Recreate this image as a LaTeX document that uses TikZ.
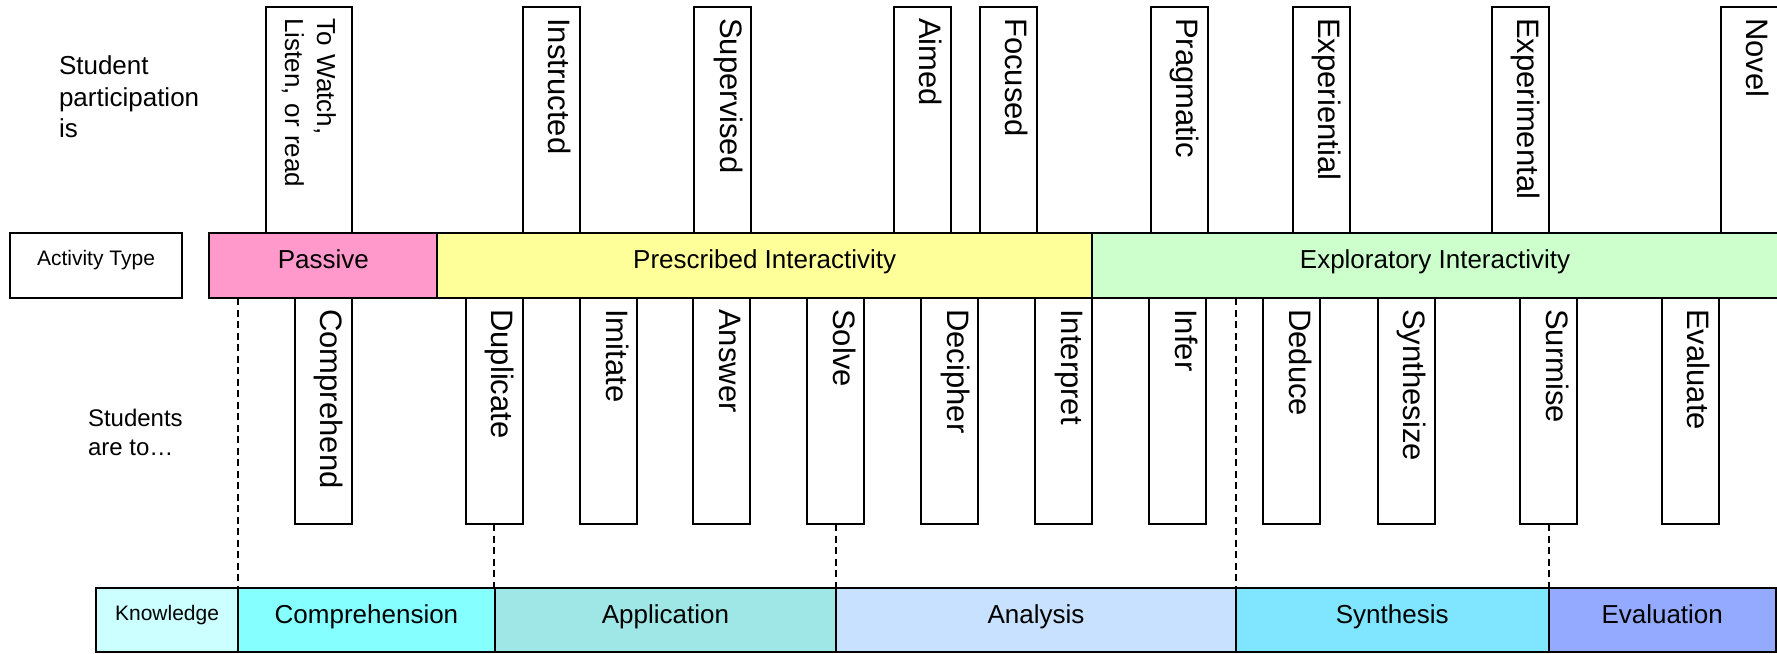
\documentclass[tikz,border=0pt]{standalone}
\usepackage{fontspec}
\setmainfont{Liberation Sans}
\definecolor{passivefill}{HTML}{FF99CC}
\definecolor{prescribedfill}{HTML}{FFFF99}
\definecolor{exploratoryfill}{HTML}{CCFFCC}
\definecolor{knowledgefill}{HTML}{CCFFFF}
\definecolor{comprehensionfill}{HTML}{85FFFF}
\definecolor{applicationfill}{HTML}{9FE6E6}
\definecolor{analysisfill}{HTML}{C8E1FF}
\definecolor{synthesisfill}{HTML}{80E5FF}
\definecolor{evaluationfill}{HTML}{94AAFF}
\begin{document}
\begin{tikzpicture}[x=1pt,y=-1pt,
  every node/.style={outer sep=0pt},
  boxline/.style={draw=black, line width=2pt},
  band/.style={boxline, anchor=north west, inner sep=0pt, minimum height=65pt,
    font=\fontsize{26}{30}\selectfont, text height=0.75em, text depth=0.2em},
  kband/.style={band, minimum height=64pt},
  smalltag/.style={font=\fontsize{21}{25}\selectfont, text height=0.75em, text depth=0.75em},
  word/.style={boxline, fill=white, rotate=-90, anchor=south west,
    inner xsep=11pt, inner ysep=0pt, minimum height=57pt, align=left,
    font=\fontsize{31}{36}\selectfont, text height=0.75em, text depth=0.25em},
  upword/.style={word, text width=204pt},
  lowword/.style={word, text width=203.7pt},
  guide/.style={draw=black, line width=2pt, dash pattern=on 7pt off 4.5pt},
  sidetext/.style={anchor=north west, inner sep=0pt, align=left}
]
\useasboundingbox[fill=white] (0,0) rectangle (1777,653);

% row captions
\node[sidetext, font=\fontsize{26}{31.5}\selectfont] (partcap) at (59,56) {Student\\participation\\is};
\node[sidetext, font=\fontsize{24}{29}\selectfont] (verbcap) at (88,409.5) {Students\\are to…};

% knowledge levels
\node[kband, smalltag, fill=knowledgefill, minimum width=142.7pt] (knowledge) at (95.7,588.3) {Knowledge};
\node[kband, fill=comprehensionfill, minimum width=256.1pt] (comprehension) at (238.4,588.3) {Comprehension};
\node[kband, fill=applicationfill, minimum width=341.8pt] (application) at (494.5,588.3) {Application};
\node[kband, fill=analysisfill, minimum width=399.5pt] (analysis) at (836.3,588.3) {Analysis};
\node[kband, fill=synthesisfill, minimum width=312.8pt] (synthesis) at (1235.8,588.3) {Synthesis};
\node[kband, fill=evaluationfill, minimum width=227.2pt] (evaluation) at (1548.6,588.3) {Evaluation};

% activity types
\node[band, smalltag, fill=white, minimum width=172pt] (acttype) at (10,233.3) {Activity Type};
\node[band, fill=passivefill, minimum width=228.1pt] (passive) at (209.3,233.3) {Passive};
\node[band, fill=prescribedfill, minimum width=654.6pt] (prescribed) at (437.4,233.3) {Prescribed Interactivity};
\node[band, fill=exploratoryfill, minimum width=686pt] (exploratory) at (1092,233.3) {Exploratory Interactivity};

% participation words
\node[upword, minimum height=86pt, font=\fontsize{26}{32}\selectfont, text height=, text depth=] (watch) at (266,7.3) {To Watch,\\Listen, or read};
\node[upword] (instructed) at (522.7,7.3) {Instructed};
\node[upword] (supervised) at (694,7.3) {Supervised};
\node[upword] (aimed) at (893.8,7.3) {Aimed};
\node[upword] (focused) at (979.5,7.3) {Focused};
\node[upword] (pragmatic) at (1150.5,7.3) {Pragmatic};
\node[upword] (experiential) at (1292.7,7.3) {Experiential};
\node[upword] (experimental) at (1491.7,7.3) {Experimental};
\node[upword] (novel) at (1720.5,7.3) {Novel};

% student actions
\node[lowword] (comprehend) at (294.5,298.3) {Comprehend};
\node[lowword] (duplicate) at (465.5,298.3) {Duplicate};
\node[lowword] (imitate) at (580,298.3) {Imitate};
\node[lowword] (answer) at (693,298.3) {Answer};
\node[lowword] (solve) at (807.3,298.3) {Solve};
\node[lowword] (decipher) at (921.3,298.3) {Decipher};
\node[lowword] (interpret) at (1035,298.3) {Interpret};
\node[lowword] (infer) at (1149.4,298.3) {Infer};
\node[lowword] (deduce) at (1263.3,298.3) {Deduce};
\node[lowword] (synthesize) at (1377.5,298.3) {Synthesize};
\node[lowword] (surmise) at (1520,298.3) {Surmise};
\node[lowword] (evaluate) at (1661.6,298.3) {Evaluate};

% dashed guides down to the knowledge levels
\draw[guide] (comprehension.north west |- passive.south) -- (comprehension.north west);
\draw[guide] (duplicate.east) -- (duplicate.east |- application.north);
\draw[guide] (solve.east) -- (solve.east |- analysis.north);
\draw[guide] (synthesis.north west |- exploratory.south) -- (synthesis.north west);
\draw[guide] (surmise.east) -- (surmise.east |- evaluation.north);
\end{tikzpicture}
\end{document}
